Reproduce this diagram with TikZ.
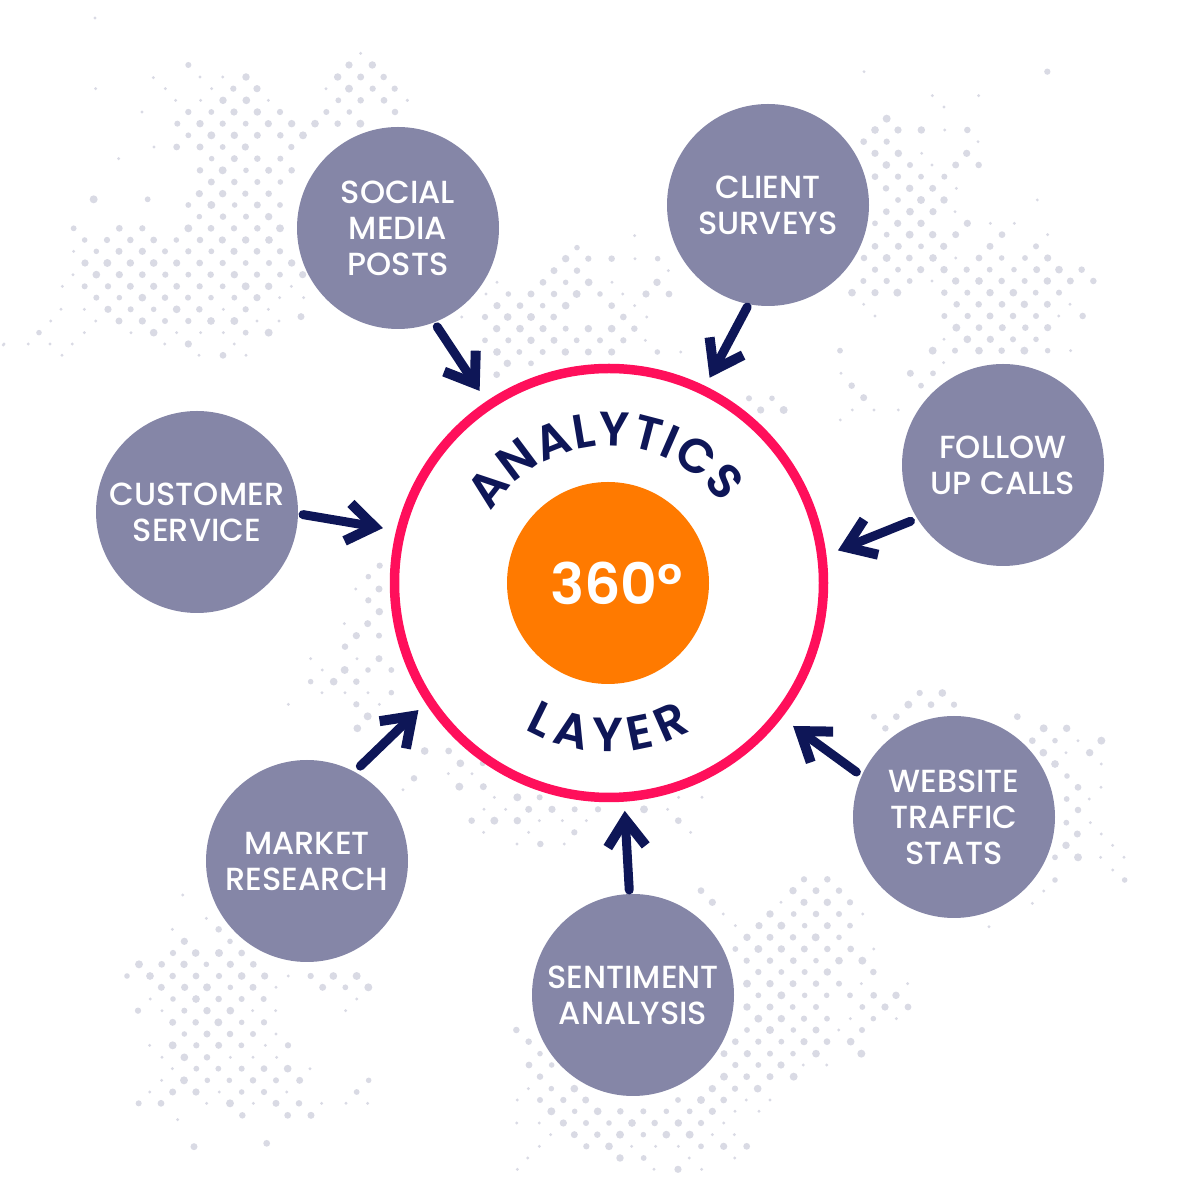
\documentclass[tikz,border=0pt]{standalone}
\usepackage{fontspec}
\setmainfont{Poppins}
\newfontfamily\medfont{Poppins Medium}
\newfontfamily\semifont{Poppins SemiBold}
\usetikzlibrary{arrows.meta,decorations.text}
\definecolor{satgray}{HTML}{8586A7}
\definecolor{ringpink}{HTML}{FF0F5B}
\definecolor{coreorange}{HTML}{FF7A00}
\definecolor{navyink}{HTML}{0E1657}
\definecolor{dotgray}{HTML}{D9DAE4}
\newcommand\bigdots[3]{\begin{scope}[shift={(#1,#2)},x=0.33333pt,y=-0.33333pt]
\foreach \yy/\xs in {#3}{\foreach \xx in \xs{\pgfmathsetmacro\rr{2.8+1.3*mod(\xx*3+\yy*5,11)/11}\fill[dotgray] (\xx,\yy) circle[radius=\rr pt];}}
\end{scope}}
\newcommand\tinydots[3]{\begin{scope}[shift={(#1,#2)},x=0.33333pt,y=-0.33333pt]
\foreach \yy/\xs in {#3}{\foreach \xx in \xs{\fill[dotgray] (\xx,\yy) circle[radius=1.6pt];}}
\end{scope}}
\tikzset{
 sat/.style={circle,fill=satgray,minimum size=202pt,inner sep=0pt,outer sep=0pt,text=white,align=center,font=\medfont\fontsize{32}{36}\selectfont},
 conn/.style={draw=navyink,line width=9pt,line cap=round,-{Straight Barb[length=27pt,width=38pt,line width=10pt]}}
}
\begin{document}
\begin{tikzpicture}[x=1pt,y=1pt]
\useasboundingbox (0,0) rectangle (1200,1200);
% dot fields (A top left)
\bigdots{0}{1160}{75/{565,1047,1117},111/{738,1013,1082,1151},146/{700,771,1047,1118,1184},181/{669,739,1015,1082,1152},216/{565,634,702,772,840,979,1048,1185},251/{532,600,668,737,805,875,945,1013,1081},286/{565,634,703,772,841,909},321/{530,600,668,736,874},356/{635,703,772,841},391/{600,668,738,806,875},426/{634,703,772,841},461/{598,668,736,806},478/{281,443},495/{565,634,704,772,840},530/{598,669,738,806},565/{221,358,427,565,633,702,772,840},600/{254,321,391,461,529,600,667,737,807},634/{289,357,427,495,565,634,702,771,840},669/{255,322,391,461,530,599,668,737,807,875},704/{289,358,427,496,565,632,703,771,840,908},739/{254,324,391,461,530,599,668,737,806},773/{289,358,427,495,564,633,703,771},808/{324,392,461,530,598,737},843/{357,427,495,565,633,703},830/{903},878/{117,461,737,806},912/{565},946/{669}}
\tinydots{0}{1160}{40/{1082},111/{600,668},113/{460},146/{287,496,635,978},181/{527,602,805,1222},216/{426},321/{462},356/{356},634/{221},704/{219},739/{187,874},773/{839,911},808/{183,253,670,805},843/{152,287,771,837},878/{253,393,530,602,670},912/{12,85,150,217,494,703},946/{186,597,738}}
% B top centre
\bigdots{400}{1160}{623/{531},656/{497,565,635,773},692/{462,531},727/{429,497,566,771},762/{325,393,462,530,600,738,807},797/{291,360,428,497,635},831/{255,323,393,461,670},866/{290,360,429,497,565,635,703},901/{255,325,393,462,530,600,670},936/{291,358,428,496,565,635,772},970/{322,393},1004/{290},1075/{1047,1116},1110/{1082,1151}}
\tinydots{400}{1160}{181/{22},587/{704},656/{705},692/{805},727/{291,636},762/{258,668},797/{704},831/{185,740},901/{736},936/{842}}
% C top right
\bigdots{780}{1150}{65/{802},206/{320},240/{285,354,424,562},275/{251,320},310/{285,355,560},345/{319,390,527,596},380/{285,354,423,493},415/{318,389,458},450/{354,423,492},485/{319,390,459},520/{285,353,423,562},554/{320,389,458,527,666},589/{285,355,423,491,630,768},624/{252,320,388,459,597,665,735,803},659/{285,354,422,492,560,629,702,770,837,905},693/{250,320,389,527,597,665,734,802,871,940},728/{216,285,352,493,562,630,700,767,837},763/{530,596,666,733,802},798/{493,563,630,699,768,908},833/{529,597,667,736,803},868/{562,631,699,768},902/{180,458,525,597,665,733,803},970/{391,459},1007/{215,423},1043/{251},1080/{11}}
\tinydots{780}{1150}{65/{252},137/{457,596},171/{492},240/{494},275/{594},310/{425},345/{456},415/{529},450/{772},485/{525},520/{631,703},554/{803},624/{527},693/{456},763/{251,870},798/{285,836},868/{492},902/{872},938/{491},970/{183},1080/{217,282,355},1110/{181}}
% D around website
\bigdots{780}{540}{99/{419,487},134/{385,453,522},170/{282,349,712},205/{316,791,860},242/{757,825,964},278/{790,929},312/{825},348/{861},382/{894},417/{860},450/{894},488/{859},522/{892},556/{858},592/{825,894},660/{825,1034}}
\tinydots{780}{540}{242/{894},278/{858},312/{964},382/{963},417/{928},488/{931},522/{964},556/{998},592/{962,1032},630/{998},693/{791},730/{757},800/{627}}
% E around sentiment
\bigdots{440}{420}{20/{58,130},52/{232,299},88/{266,336,404,474,612},122/{95,163,232,715},157/{403},192/{301},298/{1092,1162},332/{783,1059,1128,1197},367/{817,1092,1162,1230},402/{990,1061,1128,1197},437/{957,1024,1094,1162,1230},472/{921,990,1059,1127,1197},507/{886,955,1024,1093,1162,1232},542/{920,990,1060,1128,1197,1267},576/{955,1024,1094,1162,1300},611/{921,990,1059,1128,1197},646/{955,1024,1094,1160,1230,1301,1368},681/{921,990,1058,1128,1267,1335,1404},716/{955,1024,1092,1161,1300},750/{229,921,990,1060,1128,1266},785/{266,886,955,1024,1092,1161,1232},821/{300,852,922,990,1059,1128,1264},855/{267,335,886,955,1023},890/{300,852,920,990,1061},926/{334,403,817,885,953},960/{300,370,437,714,783,851},994/{334,404,473,541,610,679,749,817},1029/{370,438,507,576,644,715,783},1064/{403,472,540,610,679,749},1099/{439,507,783,851,920},1134/{540,611},1168/{714}}
\tinydots{440}{420}{52/{163,716,786},88/{132,197,683},122/{298,367,439},157/{131,266,752},192/{231,373},367/{1023},402/{850,1268},437/{886},507/{1301},611/{1264,1403},716/{1231,1369},750/{1196},855/{1090,1160},926/{265},960/{232,919,990},994/{885,957},1029/{230,298,851},1064/{332,817,883},1099/{298,575,647,715},1134/{263,748,884},1168/{232,642,785}}
% F lower left
\bigdots{100}{320}{148/{356},184/{253,390},219/{219,287,357,425},253/{117,185,252,319,391,460},288/{81,150,218,288,357,425,494,632,700,770},322/{184,254,321,391,459,668,736,805},357/{219,288,356,425,491},392/{114,253,321,391},427/{218,287,355,425,492},462/{253,321,390,459},496/{218,289,356,424,564},532/{253,321},566/{289,355,425,492,563},601/{252,322,388,459,528,599,806},636/{218,288,425,492,770},670/{116,183,390,528,597},706/{427,563,633},790/{500},800/{282}}
\tinydots{100}{320}{45/{248},115/{319},148/{217},288/{565},322/{528},357/{151,770},392/{186,458,527,737},462/{528},496/{149,496},532/{186,391,459,530},566/{217,630},601/{185},636/{149,358,560},670/{320,460,665,738,803},719/{233}}
% G left of the ring
\bigdots{280}{640}{17/{299},50/{265},87/{297},121/{265},155/{298},191/{263},227/{229,297},260/{195},296/{297},330/{194,264,334},365/{92,161,229},398/{334},433/{229},469/{263},505/{232},573/{434,506},610/{541,608},655/{402}}
\tinydots{280}{640}{87/{227},191/{193},296/{92,231},330/{127},398/{126,195,264},433/{25,298},641/{505,576},678/{538,609},689/{369}}
\tinydots{0}{1200}{54/{285},1035/{10}}
% ring and core
\node[circle,draw=ringpink,fill=white,line width=9.5pt,minimum size=429pt,inner sep=0pt,outer sep=0pt] (ring) at (609,617) {};
\node[circle,fill=coreorange,minimum size=202pt,inner sep=0pt,outer sep=0pt,text=white,font=\semifont\fontsize{57}{57}\selectfont] (core) at (608,617) {\hspace{17pt}360°};
\path[decorate,decoration={text along path,text align=fit to path,text={|\semifont\fontsize{48}{48}\selectfont\color{navyink}|ANALYTICS}}] ([shift={(149:137)}]ring.center) arc[start angle=149,end angle=35,radius=137];
\path[decorate,decoration={text along path,text align=fit to path,text={|\semifont\fontsize{48}{48}\selectfont\color{navyink}|LAYER}}] ([shift={(240:169)}]ring.center) arc[start angle=240,end angle=299,radius=169];
% satellites
\node[sat] (social) at (398,972) {SOCIAL\\MEDIA\\POSTS};
\node[sat] (client) at (768,995) {CLIENT\\SURVEYS};
\node[sat] (follow) at (1003,735) {FOLLOW\\UP CALLS};
\node[sat] (website) at (954,383) {WEBSITE\\TRAFFIC\\STATS};
\node[sat] (sentiment) at (633,205) {SENTIMENT\\ANALYSIS};
\node[sat] (market) at (307,339) {MARKET\\RESEARCH};
\node[sat] (customer) at (197,688) {CUSTOMER\\SERVICE};
% connectors
\draw[conn,shorten <=5.5pt,shorten >=17.1pt] (social.-69.1) -- (ring.124.6);
\draw[conn,shorten <=3.3pt,shorten >=14.1pt] (client.-101.1) -- (ring.64.6);
\draw[conn,shorten <=7.3pt,shorten >=17.3pt] (follow.212.6) -- (ring.7.2);
\draw[conn,shorten <=6.6pt,shorten >=18.6pt] (website.156.6) -- (ring.-38);
\draw[conn,shorten <=4.1pt,shorten >=13.9pt] (sentiment.92.7) -- (ring.-86.5);
\draw[conn,shorten <=8.2pt,shorten >=14.8pt] (market.62.3) -- (ring.213.3);
\draw[conn,shorten <=5.1pt,shorten >=18.2pt] (customer.-1.25) -- (ring.166);
\end{tikzpicture}
\end{document}
